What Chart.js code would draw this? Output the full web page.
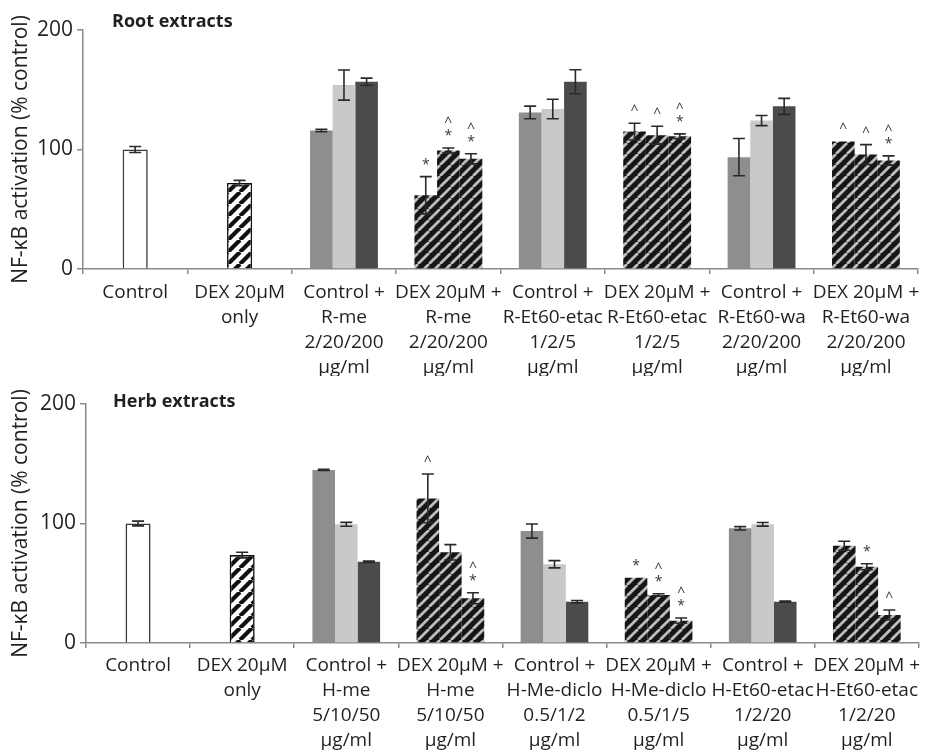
<!DOCTYPE html>
<html>
<head>
<meta charset="utf-8">
<script src="https://cdn.jsdelivr.net/npm/chart.js@4.4.1/dist/chart.umd.min.js"></script>
<style>
  html, body { margin: 0; padding: 0; background: #fff; }
  #wrap { position: relative; width: 926px; height: 753px; }
  .panel { position: absolute; left: 0; width: 926px; }
  #rootPanel { top: 0; height: 376px; }
  #herbPanel { top: 376px; height: 377px; }
</style>
</head>
<body>
<div id="wrap">
  <div class="panel" id="rootPanel"><canvas id="rootChart" width="926" height="376"></canvas></div>
  <div class="panel" id="herbPanel"><canvas id="herbChart" width="926" height="377"></canvas></div>
</div>
<script>
// ---------- Root extracts ----------
const rootCategories = [
  'Control',
  ['DEX 20\u03bcM', 'only'],
  ['Control +', 'R-me', '2/20/200', '\u03bcg/ml'],
  ['DEX 20\u03bcM +', 'R-me', '2/20/200', '\u03bcg/ml'],
  ['Control +', 'R-Et60-etac', '1/2/5', '\u03bcg/ml'],
  ['DEX 20\u03bcM +', 'R-Et60-etac', '1/2/5', '\u03bcg/ml'],
  ['Control +', 'R-Et60-wa', '2/20/200', '\u03bcg/ml'],
  ['DEX 20\u03bcM +', 'R-Et60-wa', '2/20/200', '\u03bcg/ml']
];
const rootReference    = [100, 72, null, null, null, null, null, null];
const rootReferenceErr = [2.5, 2.2, 0, 0, 0, 0, 0, 0];
const rootLowDose      = [null, null, 115.8, 61.7, 131.0, 115.0, 93.6, 106.7];
const rootLowErr       = [0, 0, 1.0, 15.6, 5.3, 7.0, 15.6, 0];
const rootMidDose      = [null, null, 153.9, 99.2, 133.9, 112.0, 124.2, 95.8];
const rootMidErr       = [0, 0, 12.6, 2.0, 8.2, 7.5, 4.2, 8.3];
const rootHighDose     = [null, null, 156.7, 92.2, 156.7, 111.1, 136.1, 90.8];
const rootHighErr      = [0, 0, 3.0, 4.2, 10.0, 2.0, 6.7, 3.9];
const rootLowMarks     = ['', '', '', '*', '', '^', '', '^'];
const rootMidMarks     = ['', '', '', '^*', '', '^', '', '^'];
const rootHighMarks    = ['', '', '', '^*', '', '^*', '', '^*'];

// ---------- Herb extracts ----------
const herbCategories = [
  'Control',
  ['DEX 20\u03bcM', 'only'],
  ['Control +', 'H-me', '5/10/50', '\u03bcg/ml'],
  ['DEX 20\u03bcM +', 'H-me', '5/10/50', '\u03bcg/ml'],
  ['Control +', 'H-Me-diclo', '0.5/1/2', '\u03bcg/ml'],
  ['DEX 20\u03bcM +', 'H-Me-diclo', '0.5/1/5', '\u03bcg/ml'],
  ['Control +', 'H-Et60-etac', '1/2/20', '\u03bcg/ml'],
  ['DEX 20\u03bcM +', 'H-Et60-etac', '1/2/20', '\u03bcg/ml']
];
const herbReference    = [100, 73.6, null, null, null, null, null, null];
const herbReferenceErr = [2.0, 2.4, 0, 0, 0, 0, 0, 0];
const herbLowDose      = [null, null, 144.8, 121.0, 93.7, 54.6, 96.0, 81.4];
const herbLowErr       = [0, 0, 0.5, 20.4, 5.9, 0, 1.4, 3.8];
const herbMidDose      = [null, null, 99.3, 75.9, 65.9, 40.2, 99.3, 63.8];
const herbMidErr       = [0, 0, 1.6, 6.4, 3.0, 1.0, 1.5, 2.5];
const herbHighDose     = [null, null, 68.0, 37.4, 34.6, 18.7, 34.6, 23.4];
const herbHighErr      = [0, 0, 0.6, 4.6, 1.0, 2.2, 0.5, 4.2];
const herbLowMarks     = ['', '', '', '^', '', '*', '', ''];
const herbMidMarks     = ['', '', '', '', '', '^*', '', '*'];
const herbHighMarks    = ['', '', '', '^*', '', '^*', '', '^'];

const yTicks = [0, 100, 200];
const yTitle = 'NF-\u03baB activation (% control)';

// ---------- styling ----------
const FONT = '"Open Sans", "Noto Sans", sans-serif';
const TEXT = '#231f20';
const AXIS = '#8a8a8a';
const LOW_GREY = '#8e8e90';
const MID_GREY = '#c9c9c9';
const HIGH_GREY = '#4b4b4d';

function hatch(bg, fg, size, width) {
  const tile = document.createElement('canvas');
  tile.width = size; tile.height = size;
  const g = tile.getContext('2d');
  g.fillStyle = bg;
  g.fillRect(0, 0, size, size);
  g.strokeStyle = fg;
  g.lineWidth = width;
  g.beginPath();
  for (let k = -1; k <= 1; k++) {
    g.moveTo(k * size, size);
    g.lineTo(k * size + size, 0);
  }
  g.stroke();
  return g.createPattern(tile, 'repeat');
}
const darkHatch = hatch('#161616', '#bdbdbd', 11, 2.8);
const whiteHatch = hatch('#ffffff', '#111111', 12, 4.2);

// plain (control) groups vs DEX groups alternate from the third category on
function groupFill(plain) {
  return [null, null, plain, darkHatch, plain, darkHatch, plain, darkHatch];
}

// error bars and significance marks drawn from each dataset's values
const decorations = {
  id: 'decorations',
  afterDatasetsDraw(chart, args, opts) {
    const ctx = chart.ctx;
    const y = chart.scales.y;
    ctx.save();
    chart.data.datasets.forEach((ds, d) => {
      const meta = chart.getDatasetMeta(d);
      ds.data.forEach((v, i) => {
        if (v == null) return;
        const el = meta.data[i];
        const e = ds.errors[i] || 0;
        const x = el.x;
        const top = y.getPixelForValue(v + e);
        const bot = y.getPixelForValue(v - e);
        if (e > 0) {
          ctx.strokeStyle = '#2a2a2a';
          ctx.lineWidth = 1.6;
          ctx.beginPath();
          ctx.moveTo(x, top); ctx.lineTo(x, bot);
          ctx.moveTo(x - 6, top); ctx.lineTo(x + 6, top);
          ctx.moveTo(x - 6, bot); ctx.lineTo(x + 6, bot);
          ctx.stroke();
        }
        const marks = ds.marks[i] || '';
        if (marks) {
          ctx.fillStyle = '#3a3a3a';
          ctx.font = '14px ' + FONT;
          ctx.textAlign = 'center';
          ctx.textBaseline = 'middle';
          const chars = marks.split('');
          let cy = top - 12;
          for (let k = chars.length - 1; k >= 0; k--) {
            ctx.fillText(chars[k], x, cy);
            cy -= 13;
          }
        }
      });
    });
    ctx.restore();
  },
  afterDraw(chart, args, opts) {
    const ctx = chart.ctx;
    ctx.save();
    ctx.fillStyle = TEXT;
    ctx.font = 'bold 18px ' + FONT;
    ctx.textAlign = 'left';
    ctx.textBaseline = 'middle';
    ctx.fillText(opts.title, chart.chartArea.left + opts.titleDx, chart.chartArea.top + opts.titleDy);
    ctx.restore();
  }
};

function makeChart(canvasId, cfg) {
  const barBase = { categoryPercentage: 0.65, barPercentage: 1.0, skipNull: true, borderWidth: 0 };
  return new Chart(document.getElementById(canvasId), {
    type: 'bar',
    data: {
      labels: cfg.labels,
      datasets: [
        Object.assign({}, barBase, {
          data: cfg.reference, errors: cfg.referenceErr, marks: ['', '', '', '', '', '', '', ''],
          backgroundColor: ['#ffffff', whiteHatch], borderColor: ['#3a3a3a', '#111111'],
          borderWidth: 1.6, barPercentage: 0.37
        }),
        Object.assign({}, barBase, {
          data: cfg.low, errors: cfg.lowErr, marks: cfg.lowMarks, backgroundColor: groupFill(LOW_GREY)
        }),
        Object.assign({}, barBase, {
          data: cfg.mid, errors: cfg.midErr, marks: cfg.midMarks, backgroundColor: groupFill(MID_GREY)
        }),
        Object.assign({}, barBase, {
          data: cfg.high, errors: cfg.highErr, marks: cfg.highMarks, backgroundColor: groupFill(HIGH_GREY)
        })
      ]
    },
    options: {
      responsive: false,
      devicePixelRatio: 1,
      animation: false,
      skipNull: true,
      layout: { padding: { top: cfg.padTop, right: cfg.padRight, left: 0, bottom: 0 } },
      plugins: {
        legend: { display: false },
        tooltip: { enabled: false },
        decorations: { title: cfg.title, titleDx: cfg.titleDx, titleDy: cfg.titleDy }
      },
      scales: {
        x: {
          stacked: false,
          afterFit: s => { s.height = cfg.xHeight; },
          grid: { drawOnChartArea: false, drawTicks: true, tickLength: 5, color: AXIS, lineWidth: 1.5, offset: true },
          border: { color: AXIS, width: 1.5 },
          ticks: {
            autoSkip: false, maxRotation: 0, minRotation: 0, padding: cfg.labelPad,
            color: TEXT, font: { family: FONT, size: 19, lineHeight: 1.316 }
          }
        },
        y: {
          stacked: false,
          min: 0, max: 200,
          afterFit: s => { s.width = cfg.yWidth; },
          afterBuildTicks: s => { s.ticks = yTicks.map(v => ({ value: v })); },
          grid: { drawOnChartArea: false, drawTicks: true, tickLength: 6, color: AXIS, lineWidth: 1.5 },
          border: { color: AXIS, width: 1.5 },
          ticks: { padding: 4, color: TEXT, font: { family: FONT, size: 21 } },
          title: { display: true, text: yTitle, color: TEXT, padding: { top: 8, bottom: 0 },
                   font: { family: FONT, size: 21 } }
        }
      }
    },
    plugins: [decorations]
  });
}

makeChart('rootChart', {
  labels: rootCategories,
  reference: rootReference, referenceErr: rootReferenceErr,
  low: rootLowDose, lowErr: rootLowErr, lowMarks: rootLowMarks,
  mid: rootMidDose, midErr: rootMidErr, midMarks: rootMidMarks,
  high: rootHighDose, highErr: rootHighErr, highMarks: rootHighMarks,
  title: 'Root extracts', titleDx: 29, titleDy: -8,
  padTop: 30, padRight: 4, yWidth: 83, xHeight: 107, labelPad: 6.5
});

makeChart('herbChart', {
  labels: herbCategories,
  reference: herbReference, referenceErr: herbReferenceErr,
  low: herbLowDose, lowErr: herbLowErr, lowMarks: herbLowMarks,
  mid: herbMidDose, midErr: herbMidErr, midMarks: herbMidMarks,
  high: herbHighDose, highErr: herbHighErr, highMarks: herbHighMarks,
  title: 'Herb extracts', titleDx: 27, titleDy: -2,
  padTop: 28, padRight: 6, yWidth: 86, xHeight: 110, labelPad: 5.5
});
</script>
</body>
</html>
